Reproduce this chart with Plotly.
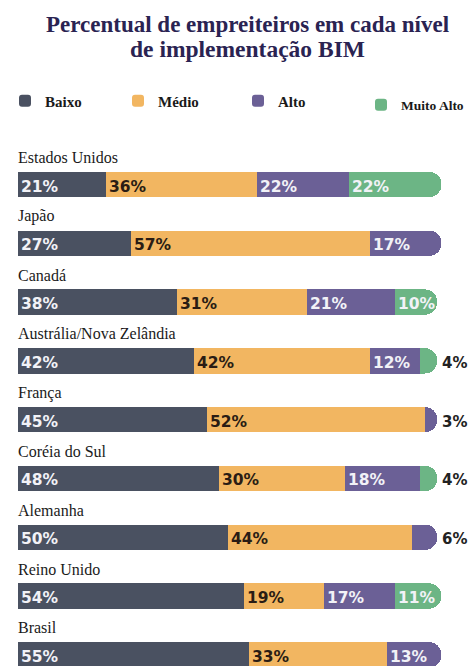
import plotly.graph_objects as go

countries = ["Estados Unidos", "Japão", "Canadá", "Austrália/Nova Zelândia", "França",
             "Coréia do Sul", "Alemanha", "Reino Unido", "Brasil"]
baixo = [21, 27, 38, 42, 45, 48, 50, 54, 55]
medio = [36, 57, 31, 42, 52, 30, 44, 19, 33]
alto = [22, 17, 21, 12, 3, 18, 6, 17, 13]
muito_alto = [22, None, 10, 4, None, 4, None, 11, None]

series = [("Baixo", baixo, "#4a5161", "#f2f2f7"),
          ("Médio", medio, "#f2b661", "#2a1c14"),
          ("Alto", alto, "#6b6096", "#f2f2f7"),
          ("Muito Alto", muito_alto, "#6cb585", "#f2f2f7")]

title_lines = ["Percentual de empreiteiros em cada nível", "de implementação BIM"]

SERIF = "Times New Roman, Liberation Serif, serif"

legend_ids = ["legend", "legend2", "legend3", "legend4"]
legend_x = [5, 118, 238, 361]
legend_y = [101, 101, 101, 105]
legend_size = [15, 15, 15, 13.5]

fig = go.Figure()
for (name, vals, color, _), lid in zip(series, legend_ids):
    fig.add_trace(go.Bar(
        y=countries, x=vals, name=name, orientation="h",
        marker=dict(color=color, line=dict(width=0), cornerradius="50%"),
        width=0.43, hoverinfo="skip", legend=lid,
    ))

annotations = []
for line, ypx, sz in zip(title_lines, [24, 49], [23, 23.5]):
    annotations.append(dict(
        x=(247 - 18) / 451, y=(666 - ypx) / 531, xref="paper", yref="paper",
        text=f"<b>{line}</b>", showarrow=False, xanchor="center", yanchor="middle",
        font=dict(family=SERIF, size=sz, color="#2a2352"),
    ))

for i, c in enumerate(countries):
    annotations.append(dict(
        x=0, y=c, xref="x", yref="y", text=c, showarrow=False,
        xanchor="left", yanchor="middle", yshift=27, xshift=-2,
        font=dict(family=SERIF, size=16, color="#1a1a1a"),
    ))
    base = 0
    total = sum(s[i] for _, s, _, _ in series if s[i] is not None)
    for name, vals, color, tcolor in series:
        v = vals[i]
        if v is None:
            continue
        if v >= 8:
            annotations.append(dict(
                x=base, y=c, xref="x", yref="y", text=f"{v}%", showarrow=False,
                xanchor="left", yanchor="middle", xshift=1, yshift=-2,
                font=dict(family="DejaVu Sans", size=15.5, color=tcolor, weight="bold"),
            ))
        else:
            annotations.append(dict(
                x=total, y=c, xref="x", yref="y", text=f"{v}%", showarrow=False,
                xanchor="left", yanchor="middle", xshift=3, yshift=-2,
                font=dict(family="DejaVu Sans", size=15, color="#222222", weight="bold"),
            ))
        base += v

layout_legends = {}
for lid, lx, ly, ls in zip(legend_ids, legend_x, legend_y, legend_size):
    layout_legends[lid] = dict(
        orientation="h", x=lx / 469, y=1 - ly / 666, xref="container", yref="container",
        xanchor="left", yanchor="middle",
        font=dict(family=SERIF, size=ls, color="#1a1a1a", weight="bold"),
        bgcolor="rgba(0,0,0,0)",
    )

fig.update_layout(
    width=469, height=666,
    margin=dict(l=18, r=0, t=135, b=0, autoexpand=False),
    barmode="stack",
    paper_bgcolor="white", plot_bgcolor="white",
    xaxis=dict(range=[0, 107.6], visible=False, fixedrange=True),
    yaxis=dict(categoryorder="array", categoryarray=countries,
               range=[8.19, -0.842], visible=False, fixedrange=True),
    annotations=annotations,
    showlegend=True,
    **layout_legends,
)

fig.write_html("out.html")
